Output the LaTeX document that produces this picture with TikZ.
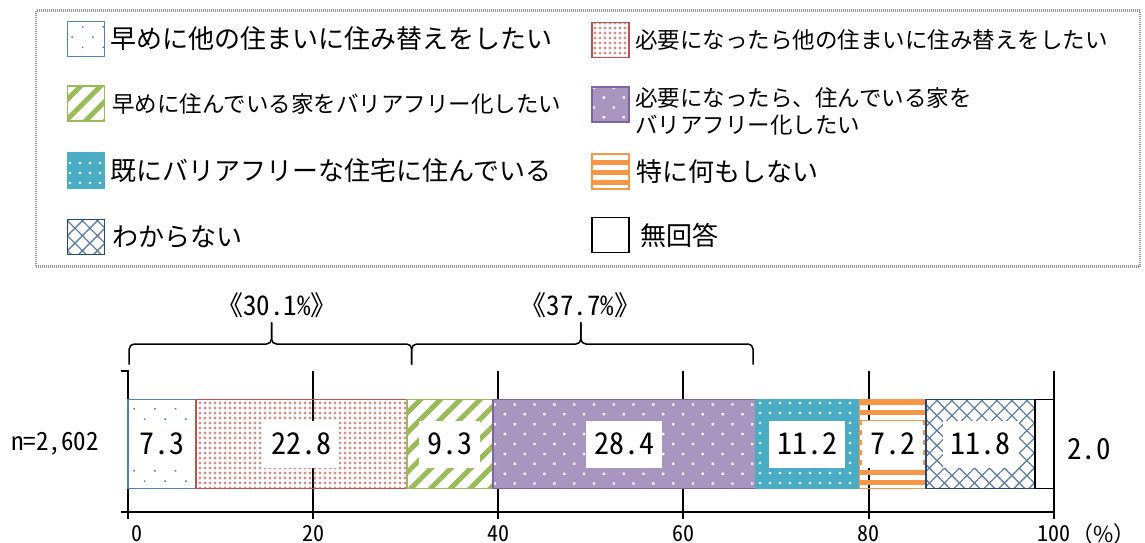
\documentclass[tikz,border=0pt]{standalone}
\usepackage{fontspec}
\setmainfont{Noto Sans CJK JP}
\newfontfamily\numfont[RawFeature=+hwid]{Noto Sans CJK JP}
\usepackage{xcolor}
\usepackage{tikz}
\usetikzlibrary{patterns.meta}
\usetikzlibrary{positioning}
\newcommand\setfs[1]{\fontsize{#1pt}{#1pt}\selectfont}

\definecolor{blueA}{RGB}{79,129,189}
\definecolor{redA}{RGB}{192,80,77}
\definecolor{greenA}{RGB}{155,187,89}
\definecolor{purpleA}{RGB}{128,100,162}
\definecolor{tealA}{RGB}{75,172,198}
\definecolor{orangeA}{RGB}{247,150,70}
\definecolor{navyA}{RGB}{31,73,125}

\begin{document}
\begin{tikzpicture}[x=1pt,y=-1pt,
  swatch/.style={minimum width=37pt,minimum height=35pt,inner sep=0pt,line width=1.5pt},
  leg text/.style={inner sep=0pt,font=\setfs{26}},
  leg small/.style={inner sep=0pt,font=\fontsize{22.5pt}{26.5pt}\selectfont,align=left},
  bar seg/.style={line width=1.5pt},
  num box/.style={fill=white,inner xsep=8pt,inner ysep=0pt,minimum height=47pt,font=\numfont\setfs{30}},
  tick label/.style={font=\numfont\setfs{22}},
  axis line/.style={line width=2pt},
  bracket/.style={line width=1.5pt,rounded corners=5pt},
  brace label/.style={font=\numfont\setfs{27}},
  pat blue/.style={pattern={Dots[angle=45,distance=14.6pt,radius=1.1pt]},pattern color=blueA},
  pat red/.style={pattern={Dots[distance=5pt,radius=1.6pt]},pattern color=redA!65},
  pat green/.style={pattern={Lines[angle=45,distance=14pt,line width=5pt]},pattern color=greenA},
  pat purple/.style={preaction={fill=purpleA!68},pattern={Dots[angle=45,distance=14pt,radius=1.6pt]},pattern color=white},
  pat teal/.style={preaction={fill=tealA},pattern={Dots[distance=10pt,radius=1.3pt]},pattern color=white},
  pat orange/.style={pattern={Lines[angle=0,distance=10pt,line width=5pt]},pattern color=orangeA},
  pat navy/.style={pattern={Hatch[angle=45,distance=10.6pt,line width=1.3pt]},pattern color=navyA!70}]
  \useasboundingbox (0,0) rectangle (1145,543);

  % Legend
  \draw[gray!85,line width=2.5pt,dash pattern=on 1pt off 1pt] (36,10.7) rectangle (1140,266.7);
  \node[swatch,draw=blueA,pat blue] (s1) at (86,38.8) {};
  \node[leg text,right=5pt of s1] (l1) {早めに他の住まいに住み替えをしたい};
  \node[swatch,draw=greenA,pat green] (s2) at (86,103.7) {};
  \node[leg small,right=5pt of s2] (l2) {早めに住んでいる家をバリアフリー化したい};
  \node[swatch,draw=tealA,pat teal] (s3) at (86,170.5) {};
  \node[leg text,right=5pt of s3] (l3) {既にバリアフリーな住宅に住んでいる};
  \node[swatch,draw=navyA,pat navy] (s4) at (86,237) {};
  \node[leg text,right=7pt of s4] (l4) {わからない};

  \node[swatch,draw=redA,pat red] (s5) at (610.7,40) {};
  \node[leg small,right=5pt of s5] (l5) {必要になったら他の住まいに住み替えをしたい};
  \node[swatch,draw=purpleA,pat purple] (s6) at (610.7,104.5) {};
  \node[leg small,right=5pt of s6,yshift=-7pt] (l6) {必要になったら、住んでいる家を\\バリアフリー化したい};
  \node[swatch,draw=orangeA,pat orange] (s7) at (610.7,171.5) {};
  \node[leg text,right=5pt of s7] (l7) {特に何もしない};
  \node[swatch,draw=black] (s8) at (610.7,235) {};
  \node[leg text,right=10pt of s8] (l8) {無回答};

  % Braces
  \coordinate (tipA) at (271.5,322.4);
  \coordinate (tipB) at (580.9,322.4);
  \draw[bracket] (129.2,364.6) -- (129.2,344) -- (tipA |- 0,344) -- (tipA);
  \draw[bracket] (tipA) -- (tipA |- 0,344) -- (411.7,344) -- (411.7,364.6);
  \draw[bracket] (411.7,364.6) -- (411.7,344) -- (tipB |- 0,344) -- (tipB);
  \draw[bracket] (tipB) -- (tipB |- 0,344) -- (753,344) -- (753,364.6);
  \node[brace label] (pA) at (277,305) {《30.1\%》};
  \node[brace label] (pB) at (580.4,305) {《37.7\%》};

  \node[font=\numfont\setfs{25}] (nlab) at (55,444) {n=2,602};
  \node[font=\numfont\setfs{29}] (v8) at (1089,449) {2.0};

  % Bar
  \begin{scope}[xshift=128.2pt,x=9.254pt]
    \foreach \v in {20,40,60,80,100}
      \draw[axis line] (\v,371.2) -- (\v,518.5);
    \draw[axis line] (-0.8,371.2) -- (0,371.2) -- (0,518.5);
    \draw[axis line] (-0.8,511.5) -- (100,511.5);

    \draw[bar seg,draw=blueA,pat blue] (0,399.3) rectangle (7.3,488.7);
    \draw[bar seg,draw=redA,pat red] (7.3,399.3) rectangle (30.1,488.7);
    \draw[bar seg,draw=greenA,pat green] (30.1,399.3) rectangle (39.4,488.7);
    \draw[bar seg,draw=purpleA,pat purple] (39.4,399.3) rectangle (67.8,488.7);
    \draw[bar seg,draw=tealA,pat teal] (67.8,399.3) rectangle (79.0,488.7);
    \draw[bar seg,draw=orangeA,pat orange] (79.0,399.3) rectangle (86.2,488.7);
    \draw[bar seg,draw=navyA,pat navy] (86.2,399.3) rectangle (98.0,488.7);
    \draw[bar seg,draw=black,fill=white] (98.0,399.3) rectangle (100,488.7);

    \node[num box] (v1) at (3.65,444) {7.3};
    \node[num box] (v2) at (18.7,444) {22.8};
    \node[num box] (v3) at (34.75,444) {9.3};
    \node[num box] (v4) at (53.6,444) {28.4};
    \node[num box] (v5) at (73.4,444) {11.2};
    \node[num box] (v6) at (82.6,444) {7.2};
    \node[num box] (v7) at (92.1,444) {11.8};

    \foreach \v in {20,40,60,80,100}
      \node[tick label] (t\v) at (\v,534) {\v};
    \node[tick label,xshift=9pt] (t0) at (0,534) {0};
  \end{scope}
  \node[font=\setfs{22},right=-6pt of t100] (pct) {（\%）};
\end{tikzpicture}
\end{document}
